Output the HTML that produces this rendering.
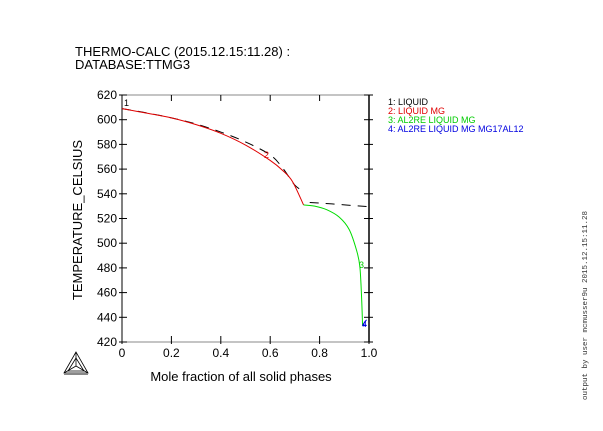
<!DOCTYPE html>
<html><head><meta charset="utf-8"><style>
body{margin:0;background:#fff;width:603px;height:426px;overflow:hidden;font-family:"Liberation Sans",sans-serif}
</style></head><body>
<svg id="chart" width="603" height="426" xmlns="http://www.w3.org/2000/svg" font-family="Liberation Sans, sans-serif">
<text x="75" y="56" font-size="13">THERMO-CALC (2015.12.15:11.28) :</text>
<text x="75" y="69" font-size="13">DATABASE:TTMG3</text>
<g id="axes"></g>
<g id="series"></g>
<text transform="translate(82,220) rotate(-90)" text-anchor="middle" font-size="13">TEMPERATURE_CELSIUS</text>
<text x="241" y="381" text-anchor="middle" font-size="13">Mole fraction of all solid phases</text>
<g font-size="9">
<text x="388" y="105" fill="#000">1: LIQUID</text>
<text x="388" y="114" fill="#e00000">2: LIQUID MG</text>
<text x="388" y="123" fill="#00cc00">3: AL2RE LIQUID MG</text>
<text x="388" y="132" fill="#0000e0">4: AL2RE LIQUID MG MG17AL12</text>
</g>
<text transform="translate(587,400) rotate(-90)" font-size="7.5" font-family="Liberation Mono, monospace" fill="#333">output by user mcmusser9u 2015.12.15:11.28</text>
<g stroke="#000" fill="none" stroke-width="0.8">
<polygon points="76,352 64,373 88,373"/><polygon points="76,358 68,371 84,371"/><line x1="76" y1="352" x2="76" y2="366"/><line x1="64" y1="373" x2="76" y2="366"/><line x1="88" y1="373" x2="76" y2="366"/>
<line x1="64" y1="374" x2="88" y2="374" stroke="#888" stroke-width="2"/>
</g>
</svg>
<script>
const xTicks=[0,0.2,0.4,0.6,0.8,1.0];
const xTickLabels=["0","0.2","0.4","0.6","0.8","1.0"];
const yTicks=[420,440,460,480,500,520,540,560,580,600,620];
const liquidX=[0,0.1,0.2,0.3,0.4,0.5,0.6,0.65,0.7,0.74];
const liquidY=[609,605.5,601.5,596.5,590,582,571.5,561,547,541.5];
const liquid2X=[0.76,0.85,0.99];
const liquid2Y=[533,531.8,529.7];
const mgX=[0,0.1,0.2,0.3,0.4,0.5,0.6,0.65,0.69,0.735];
const mgY=[609,605.3,601.5,596,589,579.5,567,559,550,531];
const al2reX=[0.735,0.78,0.83,0.88,0.92,0.95,0.963,0.97,0.974];
const al2reY=[531,530,527,521,511,494,481,456,433];
const mg17X=[0.974,0.99,0.99,0.976,0.99];
const mg17Y=[433,433.5,433.5,434,438];
const NS="http://www.w3.org/2000/svg";
const X0=122,X1=369,Y0=342,Y1=95;
const sx=v=>X0+(v-0)/(1-0)*(X1-X0);
const sy=v=>Y0-(v-420)/(620-420)*(Y0-Y1);
const axes=document.getElementById('axes'),ser=document.getElementById('series');
function mk(tag,attrs,parent){const e=document.createElementNS(NS,tag);for(const k in attrs)e.setAttribute(k,attrs[k]);parent.appendChild(e);return e;}
let e;
e=mk('rect',{x:X0,y:Y1,width:X1-X0,height:Y0-Y1,fill:'none',stroke:'#888','stroke-width':1},axes);


e=mk('line',{x1:X0,y1:Y1,x2:X0,y2:Y0,stroke:'#000','stroke-width':1},axes);


e=mk('line',{x1:X1,y1:Y1,x2:X1,y2:Y0,stroke:'#000','stroke-width':1.5},axes);


xTicks.forEach((t,i)=>{const x=sx(t);
e=mk('line',{x1:x,y1:Y0-6,x2:x,y2:Y0+2,stroke:'#000'},axes);


e=mk('line',{x1:x,y1:Y1,x2:x,y2:Y1+6,stroke:'#000'},axes);


e=mk('text',{x:x,y:Y0+15,'text-anchor':'middle','font-size':12},axes);e.textContent=xTickLabels[i];

});
yTicks.forEach(t=>{const y=sy(t);
e=mk('line',{x1:X0-3,y1:y,x2:X0+5,y2:y,stroke:'#000'},axes);


e=mk('line',{x1:X1-5,y1:y,x2:X1+4,y2:y,stroke:'#000'},axes);


e=mk('text',{x:X0-5,y:y+4,'text-anchor':'end','font-size':12},axes);e.textContent=t;

});
function smooth(xs,ys){const p=xs.map((v,i)=>[sx(v),sy(ys[i])]);let d='M'+p[0][0]+','+p[0][1];
for(let i=0;i<p.length-1;i++){const a=p[Math.max(0,i-1)],b=p[i],c=p[i+1],n=p[Math.min(p.length-1,i+2)];
const c1=[b[0]+(c[0]-a[0])/6,b[1]+(c[1]-a[1])/6],c2=[c[0]-(n[0]-b[0])/6,c[1]-(n[1]-b[1])/6];
d+=' C'+c1+' '+c2+' '+c;}return d;}
function line(xs,ys,color,dash,poly){const d=poly?'M'+xs.map((v,i)=>sx(v)+','+sy(ys[i])).join(' L'):smooth(xs,ys);
return mk('path',{d:d,fill:'none',stroke:color,'stroke-width':1,'stroke-dasharray':dash||'none'},ser);}
e=line(liquidX,liquidY,'#000','9,7');


e=line(liquid2X,liquid2Y,'#000','9,7');


e=line(mgX,mgY,'#e00000');


e=line(al2reX,al2reY,'#00dd00');


e=line(mg17X,mg17Y,'#0000e0',null,true);


[["1",124,106,'#000'],["2",264,158,'#e00000'],["3",359,268,'#00cc00'],["4",362,327,'#0000e0']].forEach(l=>{
e=mk('text',{x:l[1],y:l[2],'font-size':9,fill:l[3]},ser);e.textContent=l[0];

});
</script>
</body></html>
